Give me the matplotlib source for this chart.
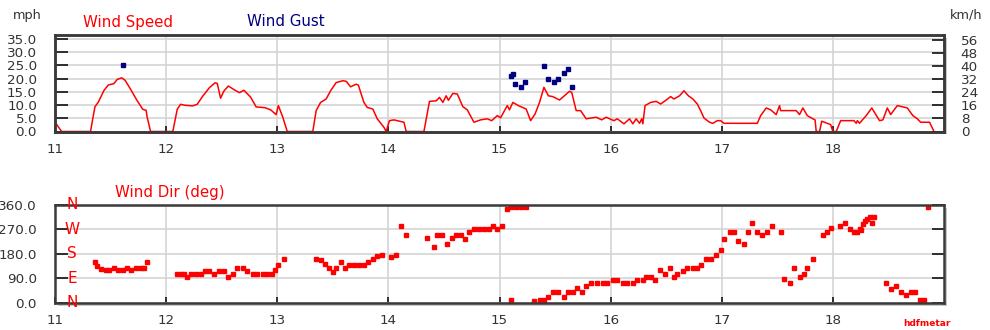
import numpy as np
import matplotlib
matplotlib.use('Agg')
import matplotlib.pyplot as plt
from matplotlib.patches import Rectangle
from matplotlib.transforms import blended_transform_factory

# wind speed (mph) vs day
speed_t = [11.00, 11.06, 11.32, 11.34, 11.36, 11.39, 11.44, 11.48, 11.53, 11.56,
           11.60, 11.63, 11.68, 11.74, 11.79, 11.82, 11.83, 11.86, 12.06, 12.10,
           12.13, 12.17, 12.24, 12.28, 12.33, 12.39, 12.44, 12.46, 12.49, 12.52,
           12.56, 12.62, 12.66, 12.70, 12.76, 12.81, 12.89, 12.94, 12.99, 13.01,
           13.05, 13.09, 13.32, 13.35, 13.39, 13.44, 13.48, 13.53, 13.59, 13.62,
           13.66, 13.71, 13.73, 13.78, 13.81, 13.86, 13.90, 13.96, 13.98, 14.01,
           14.05, 14.14, 14.16, 14.32, 14.37, 14.43, 14.46, 14.49, 14.52, 14.54,
           14.58, 14.62, 14.67, 14.71, 14.77, 14.83, 14.89, 14.93, 14.98, 15.01,
           15.07, 15.09, 15.12, 15.17, 15.24, 15.28, 15.32, 15.36, 15.40, 15.44,
           15.48, 15.54, 15.63, 15.65, 15.69, 15.73, 15.78, 15.87, 15.92, 15.96,
           16.03, 16.06, 16.12, 16.17, 16.20, 16.23, 16.26, 16.28, 16.29, 16.31,
           16.36, 16.41, 16.45, 16.49, 16.54, 16.57, 16.62, 16.66, 16.70, 16.74,
           16.78, 16.81, 16.84, 16.89, 16.92, 16.96, 16.99, 17.02, 17.32, 17.35,
           17.40, 17.44, 17.49, 17.52, 17.53, 17.67, 17.70, 17.73, 17.77, 17.82,
           17.84, 17.85, 17.88, 17.90, 17.95, 17.98, 18.00, 18.03, 18.07, 18.19,
           18.21, 18.22, 18.24, 18.26, 18.30, 18.35, 18.42, 18.45, 18.49, 18.52,
           18.58, 18.63, 18.67, 18.72, 18.76, 18.79, 18.87, 18.91]
speed_mph = [3.5, 0, 0, 4.9, 9.4, 11.1, 15.5, 17.6, 18.1, 19.7,
             20.3, 19.4, 16.0, 11.6, 8.4, 8.0, 5.3, 0, 0, 8.4,
             10.3, 9.9, 9.7, 10.3, 13.4, 16.6, 18.4, 18.2, 12.6, 15.3,
             17.2, 15.6, 14.7, 15.6, 13.0, 9.3, 9.0, 8.2, 6.4, 9.8,
             5.4, 0, 0, 7.9, 11.0, 12.3, 15.4, 18.5, 19.2, 19.0,
             16.9, 17.9, 17.5, 11.0, 9.1, 8.5, 4.8, 1.6, 0, 4.1,
             4.4, 3.5, 0, 0, 11.4, 11.6, 12.9, 11.0, 13.5, 11.8,
             14.4, 14.2, 9.4, 8.2, 3.5, 4.4, 4.8, 4.1, 6.0, 5.2,
             9.8, 8.2, 11.0, 9.8, 8.5, 4.1, 6.6, 11.0, 16.7, 13.5,
             13.2, 11.9, 15.2, 14.8, 7.9, 7.9, 4.8, 5.4, 4.4, 5.4,
             4.1, 4.8, 2.9, 4.8, 2.9, 4.8, 3.1, 4.8, 2.9, 9.8,
             11.0, 11.4, 10.4, 11.6, 13.2, 12.3, 13.5, 15.4, 13.5, 12.3,
             10.4, 7.9, 5.1, 3.5, 3.1, 4.1, 4.1, 3.1, 3.1, 6.0,
             8.9, 8.2, 6.4, 9.8, 7.9, 7.9, 6.4, 8.9, 6.0, 4.8,
             4.4, 0, 0, 3.9, 3.1, 2.6, 0, 0, 4.1, 4.1,
             3.1, 4.1, 3.1, 4.1, 6.0, 8.9, 4.1, 4.4, 8.9, 6.4,
             9.8, 9.3, 8.9, 6.0, 4.8, 3.5, 3.5, 0]

# wind gust (mph)
gust_t = [11.61, 15.10, 15.12, 15.14, 15.19, 15.23, 15.40, 15.44, 15.49,
          15.53, 15.58, 15.62, 15.65]
gust_mph = [25.0, 21.1, 21.6, 17.9, 16.7, 18.9, 24.8, 19.8, 18.8,
            20.0, 22.3, 23.8, 16.9]

# wind direction (deg)
dir_t = [11.36, 11.38, 11.41, 11.46, 11.49, 11.53, 11.57, 11.61, 11.65, 11.68,
         11.73, 11.77, 11.80, 11.83,
         12.10, 12.13, 12.16, 12.19, 12.22, 12.27, 12.31, 12.35, 12.39, 12.43,
         12.48, 12.52, 12.56, 12.60, 12.64, 12.69, 12.73, 12.78, 12.82, 12.87,
         12.91, 12.95, 12.98, 13.01, 13.06,
         13.35, 13.39, 13.43, 13.47, 13.50, 13.53, 13.57, 13.61, 13.65, 13.69,
         13.74, 13.78, 13.82, 13.86, 13.90, 13.94, 14.02, 14.07, 14.11, 14.16,
         14.35, 14.41, 14.44, 14.48, 14.53, 14.57, 14.61, 14.65, 14.69, 14.73,
         14.77, 14.82, 14.86, 14.91, 14.94, 14.98, 15.02, 15.07, 15.10, 15.15,
         15.19, 15.24, 15.10, 15.31, 15.36, 15.40, 15.44, 15.48, 15.53, 15.58,
         15.62, 15.66, 15.70, 15.74, 15.78, 15.82, 15.88, 15.93, 15.97, 16.02,
         16.06, 16.11, 16.15, 16.20, 16.24, 16.29, 16.32, 16.36, 16.40, 16.44,
         16.49, 16.53, 16.57, 16.60, 16.65, 16.69, 16.74, 16.78, 16.81, 16.86,
         16.90, 16.95, 16.99, 17.02, 17.07, 17.11, 17.15, 17.20, 17.24, 17.27,
         17.32, 17.36, 17.41, 17.45, 17.53, 17.56, 17.61, 17.65, 17.70, 17.74,
         17.77, 17.82, 17.91, 17.95, 17.98, 18.06, 18.11, 18.15, 18.19, 18.22,
         18.24, 18.25, 18.27, 18.29, 18.31, 18.33, 18.35, 18.37, 18.48, 18.52,
         18.57, 18.61, 18.66, 18.70, 18.74, 18.78, 18.82, 18.86]
dir_deg = [150, 134, 122, 120, 120, 129, 120, 120, 129, 120,
           128, 128, 129, 150,
           107, 107, 105, 95, 104, 107, 107, 117, 117, 107,
           117, 117, 95, 107, 128, 128, 117, 107, 107, 107,
           107, 107, 120, 137, 160,
           160, 158, 144, 126, 113, 128, 150, 128, 138, 138,
           138, 138, 150, 160, 171, 175, 168, 175, 284, 248,
           238, 205, 248, 248, 217, 238, 248, 248, 235, 260,
           272, 272, 272, 272, 284, 272, 284, 345, 351, 351,
           351, 351, 10, 4, 10, 10, 22, 40, 40, 22,
           40, 40, 52, 40, 61, 71, 71, 71, 71, 83,
           83, 71, 71, 71, 83, 83, 95, 95, 83, 120,
           107, 129, 95, 105, 117, 126, 126, 126, 138, 159,
           159, 175, 195, 235, 260, 262, 227, 215, 262, 294,
           262, 248, 260, 284, 262, 87, 71, 128, 95, 105,
           128, 160, 248, 262, 275, 284, 294, 272, 260, 260,
           272, 266, 290, 300, 309, 315, 294, 315, 71, 50,
           61, 40, 28, 40, 40, 10, 10, 351]

days = list(range(11, 19))
mph_ticks = [0, 5, 10, 15, 20, 25, 30, 35]
kmh_ticks = [0, 8, 16, 24, 32, 40, 48, 56]
deg_ticks = [0, 90, 180, 270, 360]
compass = ['N', 'E', 'S', 'W', 'N']

plt.rcParams['font.family'] = 'DejaVu Sans'
red = '#ff0000'
navy = '#000080'
frame = '#3a3a3a'
txt = '#333333'

fig = plt.figure(figsize=(9.9, 3.3), dpi=100)
W, H = 990, 330

def box(y_top, y_bot):
    return [55 / W, 1 - y_bot / H, (944 - 55) / W, (y_bot - y_top) / H]

ax1 = fig.add_axes(box(35, 131.5))
ax2 = fig.add_axes(box(205, 302.5))

# shadows behind the frames
for ax in (ax1, ax2):
    p = ax.get_position()
    fig.patches.append(Rectangle((p.x0 + 3 / W, p.y0 - 3 / H), p.width, p.height,
                                 transform=fig.transFigure, facecolor='#c8c8c8',
                                 edgecolor='none', zorder=-1))

for ax in (ax1, ax2):
    ax.set_facecolor('white')
    ax.set_xlim(11, 19)
    ax.set_xticks(days)
    ax.grid(True, color='#d4d4d4', lw=1.2)
    ax.set_axisbelow(True)
    for s in ax.spines.values():
        s.set_color(frame)
        s.set_linewidth(1.8)
    ax.tick_params(axis='x', direction='in', length=4, width=1.2, color='#111111',
                   labelsize=9.7, labelcolor=txt, pad=8)
    ax.tick_params(axis='y', direction='in', length=9, width=1.2, color='#111111',
                   labelsize=9.7, labelcolor=txt, pad=13)

# speed panel
ax1.plot(speed_t, speed_mph, color=red, lw=1.1)
ax1.plot(gust_t, gust_mph, ls='none', marker='s', ms=3, color=navy)
ax1.set_ylim(0, 36.5)
ax1.set_yticks(mph_ticks)
ax1.set_yticklabels(['%.1f' % v for v in mph_ticks])

axr = ax1.twinx()
axr.set_ylim(0, 36.5 * 1.609344)
axr.set_yticks(kmh_ticks)
axr.tick_params(axis='y', direction='in', length=9, width=1.2, color='#111111',
                labelsize=9.7, labelcolor=txt, pad=12)
for s in axr.spines.values():
    s.set_color(frame)
    s.set_linewidth(1.8)

# direction panel
ax2.plot(dir_t, dir_deg, ls='none', marker='s', ms=3, color=red)
ax2.set_ylim(0, 360)
ax2.set_yticks(deg_ticks)
ax2.set_yticklabels(['%.1f' % v for v in deg_ticks])
ax2.tick_params(axis='y', right=True)
tr = blended_transform_factory(ax2.transAxes, ax2.transData)
for v, c in zip(deg_ticks, compass):
    ax2.text(0.019, v, c, transform=tr, color=red, fontsize=11,
             ha='center', va='center', clip_on=False)

# headings
fig.text(13 / W, 1 - 15 / H, 'mph', fontsize=9.3, color=txt, va='center')
fig.text(83 / W, 1 - 22 / H, 'Wind Speed', fontsize=10.8, color=red, va='center')
fig.text(247 / W, 1 - 22 / H, 'Wind Gust', fontsize=10.8, color=navy, va='center')
fig.text(950 / W, 1 - 15 / H, 'km/h', fontsize=9.3, color=txt, va='center')
fig.text(115 / W, 1 - 193 / H, 'Wind Dir (deg)', fontsize=10.8, color=red, va='center')
fig.text(903 / W, 1 - 323 / H, 'hdfmetar', fontsize=6.5, color=red, va='center',
         weight='bold')

fig.savefig('out.png', dpi=100)
